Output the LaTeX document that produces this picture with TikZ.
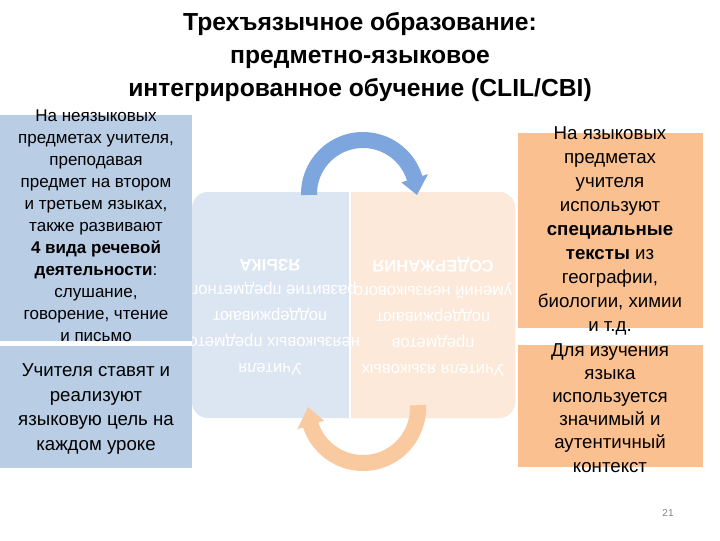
\documentclass[tikz,border=0pt]{standalone}
\usepackage{fontspec}
\setmainfont{Liberation Sans}
\usetikzlibrary{calc}
\definecolor{boxblue}{HTML}{B9CDE5}
\definecolor{boxorange}{HTML}{FAC090}
\definecolor{paneblue}{HTML}{DCE6F2}
\definecolor{panepeach}{HTML}{FDE9D9}
\definecolor{arrblue}{HTML}{7EA6DE}
\definecolor{arrorange}{HTML}{F9C9A0}
\begin{document}
\begin{tikzpicture}[x=0.75pt,y=-0.75pt,
	sidetext/.style={align=center,inner sep=0pt,font=\fontsize{14}{18}\selectfont},
	panetext/.style={align=center,inner sep=0pt,text=white,rotate=180,font=\fontsize{12.5}{19.5}\selectfont}]
	\useasboundingbox (0,0) rectangle (720,540);
	\coordinate (ctop) at (363,194);
	\coordinate (cbot) at (363,408);
	% title
	\node[align=center,inner sep=0pt,font=\bfseries\fontsize{18.5}{24.75}\selectfont] (title) at (360,57)
		{Трехъязычное образование:\\предметно-языковое\\интегрированное обучение (CLIL/CBI)};
	% middle panel, text upside down
	\fill[paneblue,rounded corners=12] (192,192) rectangle (515,418);
	\fill[panepeach,rounded corners=12] (300,192) rectangle (515,418);
	\fill[paneblue] (300,192) rectangle (350,418);
	\draw[white,line width=1pt] (350,192)--(350,418);
	\node[panetext] (langtxt) at (270,317)
		{Учителя\\неязыковых предметов\\поддерживают\\развитие предметного\\\textbf{ЯЗЫКА}};
	\node[panetext] (contxt) at (433,317)
		{Учителя языковых\\предметов\\поддерживают\\умений неязыкового\\\textbf{СОДЕРЖАНИЯ}};
	% curved arrows
	\fill[arrblue] ($(ctop)+(179:62)$) arc[start angle=179,end angle=343,radius=62]
		-- ($(ctop)+(343:68)$) -- ($(ctop)+(1:54)$) -- ($(ctop)+(343:40)$) -- ($(ctop)+(343:46)$)
		arc[start angle=343,end angle=179,radius=46] -- cycle;
	\fill[arrorange] ($(cbot)+(-3:63)$) arc[start angle=-3,end angle=162,radius=63]
		-- ($(cbot)+(162:69)$) -- ($(cbot)+(181:55)$) -- ($(cbot)+(162:41)$) -- ($(cbot)+(162:47)$)
		arc[start angle=162,end angle=-3,radius=47] -- cycle;
	% side boxes
	\fill[boxblue] (0,115) rectangle (192,341);
	\fill[boxblue] (0,346) rectangle (192,468);
	\fill[boxorange] (518,133) rectangle (703,328);
	\fill[boxorange] (518,345) rectangle (703,467);
	\node[sidetext,font=\fontsize{12.75}{16.5}\selectfont] (lefttop) at (96,226)
		{На неязыковых\\предметах учителя,\\преподавая\\предмет на втором\\и третьем языках,\\также развивают\\\textbf{4 вида речевой}\\\textbf{деятельности}:\\слушание,\\говорение, чтение\\и письмо};
	\node[sidetext,font=\fontsize{14}{18.4}\selectfont] (leftbot) at (96,409)
		{Учителя ставят и\\реализуют\\языковую цель на\\каждом уроке};
	\node[sidetext] (righttop) at (610,231)
		{На языковых\\предметах\\учителя\\используют\\\textbf{специальные}\\\textbf{тексты} из\\географии,\\биологии, химии\\и т.д.};
	\node[sidetext,font=\fontsize{14}{17.3}\selectfont] (rightbot) at (610,408)
		{Для изучения\\языка\\используется\\значимый и\\аутентичный\\контекст};
	\node[text=gray,font=\fontsize{7.5}{9}\selectfont,inner sep=0pt] (pagenum) at (668,513) {21};
\end{tikzpicture}
\end{document}
